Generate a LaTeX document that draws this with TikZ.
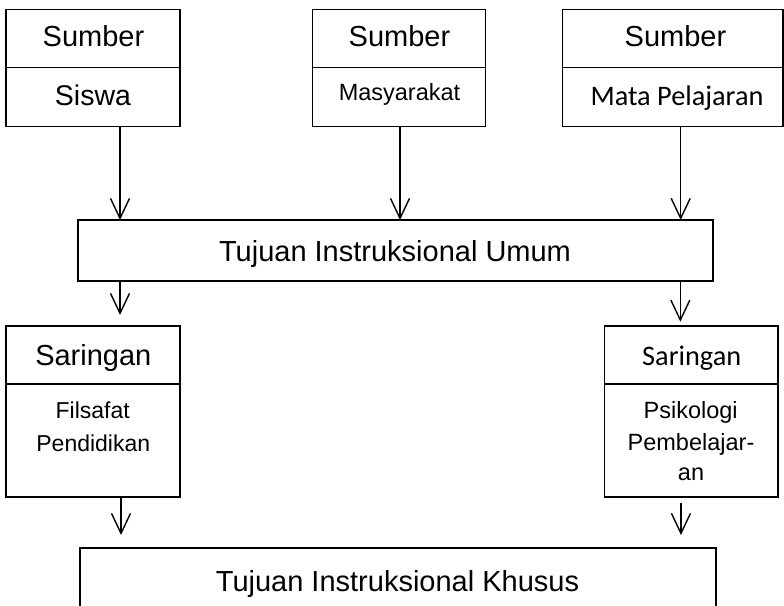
\documentclass[tikz,border=0pt]{standalone}
\usepackage{fontspec}
\setmainfont{Liberation Sans}
\newfontfamily\calibrifont{Carlito}
\usetikzlibrary{arrows.meta}

\begin{document}
\begin{tikzpicture}[x=1pt,y=-1pt,
  box/.style={draw, line width=1.4pt, inner sep=0pt, outer sep=0pt},
  rule/.style={line width=1.4pt},
  arr/.style={line width=1.4pt, -{Straight Barb[length=20pt,width=19pt]}},
  txt/.style={inner sep=0pt, outer sep=0pt, anchor=base},
  big/.style={txt, font=\fontsize{29}{34}\selectfont},
  mid/.style={txt, font=\fontsize{23.5}{28}\selectfont},
  cal/.style={txt, font=\calibrifont\fontsize{28.3}{34}\selectfont}]
\clip (0,0) rectangle (784,605);

% source boxes
\node[box, minimum width=174pt, minimum height=117.4pt] (s1) at (93,68) {};
\node[box, minimum width=173pt, minimum height=117.4pt] (s2) at (399.2,68) {};
\node[box, minimum width=220.3pt, minimum height=117.4pt] (s3) at (672.85,68) {};
\foreach \b in {s1,s2,s3}
  \draw[rule] ([yshift=-58.4pt]\b.north west) -- ([yshift=-58.4pt]\b.north east);

\node[big] (s1a) at (93.5,46.7) {Sumber};
\node[big, font=\fontsize{28.5}{34}\selectfont] (s1b) at (93,105) {Siswa};
\node[big] (s2a) at (399.5,46.7) {Sumber};
\node[mid] (s2b) at (399.5,100.7) {Masyarakat};
\node[big] (s3a) at (675.5,46.7) {Sumber};
\node[cal] (s3b) at (677,105.5) {Mata Pelajaran};

% general objectives
\node[box, minimum width=635pt, minimum height=61pt] (umum) at (395.5,250.5) {};
\node[big] (umumt) at (395,261.7) {Tujuan Instruksional Umum};

% filter boxes
\node[box, minimum width=174pt, minimum height=171pt] (fl) at (93,411.5) {};
\node[box, minimum width=173.7pt, minimum height=171pt] (fr) at (691.15,411.5) {};
\foreach \b in {fl,fr}
  \draw[rule] ([yshift=-58pt]\b.north west) -- ([yshift=-58pt]\b.north east);

\node[big] (fla) at (93.3,365) {Saringan};
\node[txt, font=\fontsize{23}{33}\selectfont] (flb) at (92.7,418.3) {Filsafat};
\node[txt, font=\fontsize{23}{33}\selectfont] (flc) at (93.3,451.7) {Pendidikan};
\node[cal] (fra) at (691.7,365) {Saringan};
\node[txt, font=\fontsize{23.5}{31}\selectfont] (frb) at (690.7,418.3) {Psikologi};
\node[txt, font=\fontsize{23.5}{31}\selectfont] (frc) at (691,450) {Pembelajar-};
\node[txt, font=\fontsize{23.5}{31}\selectfont] (frd) at (691,480) {an};

% specific objectives
\node[box, minimum width=636pt, minimum height=100pt] (khusus) at (398,598) {};
\node[big] (khusust) at (397.5,591.7) {Tujuan Instruksional Khusus};

% connectors
\draw[arr] ([xshift=27pt]s1.south) -- ([xshift=27pt]s1.south |- umum.north);
\draw[arr] ([xshift=0.8pt]s2.south) -- ([xshift=0.8pt]s2.south |- umum.north);
\draw[arr] ([xshift=7.85pt]s3.south) -- ([xshift=7.85pt]s3.south |- umum.north);

\draw[arr, shorten >=11pt] ([xshift=27pt]fl.north |- umum.south) -- ([xshift=27pt]fl.north);
\draw[arr, shorten >=4.3pt] ([xshift=-10.8pt]fr.north |- umum.south) -- ([xshift=-10.8pt]fr.north);

\draw[arr, shorten >=13pt] ([xshift=28pt]fl.south) -- ([xshift=28pt]fl.south |- khusus.north);
\draw[arr, shorten <=6pt, shorten >=13pt] ([xshift=-10.2pt]fr.south) -- ([xshift=-10.2pt]fr.south |- khusus.north);
\end{tikzpicture}
\end{document}
